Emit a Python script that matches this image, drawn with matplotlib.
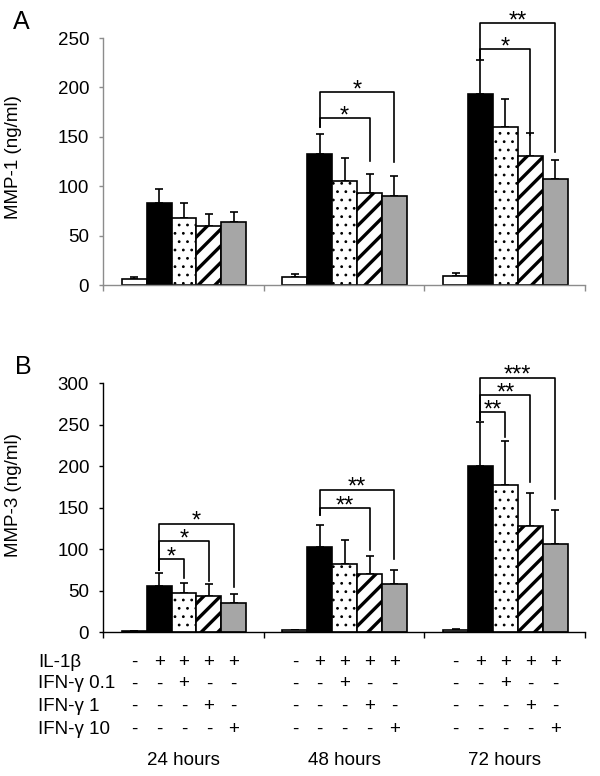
import matplotlib
matplotlib.use("Agg")
import matplotlib.pyplot as plt
import matplotlib.transforms as mtransforms
import numpy as np

plt.rcParams['font.family'] = ['Liberation Sans', 'DejaVu Sans']
plt.rcParams['hatch.linewidth'] = 2.4

# groups and treatments
groups = ["24 hours", "48 hours", "72 hours"]
row_labels = ["IL-1\u03b2", "IFN-\u03b3 0.1", "IFN-\u03b3 1", "IFN-\u03b3 10"]
row_signs = [
    ["-", "+", "+", "+", "+"],
    ["-", "-", "+", "-", "-"],
    ["-", "-", "-", "+", "-"],
    ["-", "-", "-", "-", "+"],
]

# MMP-1 (ng/ml): mean and upper SD, per group
mmp1_mean = [[6, 83, 68, 60, 64], [8, 133, 105, 93, 90], [9, 193, 160, 131, 107]]
mmp1_sd = [[1.8, 14, 15, 12, 10], [3, 20, 24, 19, 20], [3.5, 35, 28, 23, 20]]

# MMP-3 (ng/ml)
mmp3_mean = [[1.5, 56, 47, 44, 35], [2.5, 103, 82, 70, 58], [3, 200, 178, 128, 107]]
mmp3_sd = [[0.6, 15, 13, 14, 11], [1, 26, 29, 22, 17], [1.2, 53, 53, 40, 41]]

# significance brackets: (group, target bar, bracket height, left end, right end, stars)
mmp1_sig = [
    (1, 3, 169, 160, 126, "*"),
    (1, 4, 195, 160, 125, "*"),
    (2, 3, 238.5, 229, 152, "*"),
    (2, 4, 265, 229, 135, "**"),
]
mmp3_sig = [
    (0, 2, 88, 75, 65, "*"),
    (0, 3, 110, 75, 62, "*"),
    (0, 4, 131, 75, 55, "*"),
    (1, 3, 150, 141, 99, "**"),
    (1, 4, 172, 141, 88, "**"),
    (2, 2, 265, 256, 235, "**"),
    (2, 3, 286, 256, 181, "**"),
    (2, 4, 307, 256, 161, "***"),
]

offsets = 0.194 + 0.155 * np.arange(5)
bar_w = 0.155
faces = ["white", "black", "white", "white", "#a6a6a6"]
hatches = [None, None, "..", "//", None]
FS = 13.5


def draw_panel(ax, means, sds, sig, ymax, step, axcol, ylabel):
    for g in range(3):
        x = g + offsets
        for i in range(5):
            b = ax.bar(x[i], means[g][i], width=bar_w, color=faces[i],
                       edgecolor="black", linewidth=1.2, hatch=hatches[i], zorder=2)
            if hatches[i] == ".." and hasattr(b[0], "set_hatch_linewidth"):
                b[0].set_hatch_linewidth(0.8)
        ax.errorbar(x, means[g], yerr=[np.zeros(5), sds[g]], fmt="none",
                    ecolor="black", elinewidth=1.2, capsize=3, capthick=1.2, zorder=1)
    for g, t, h, lb, rb, stars in sig:
        x0 = g + offsets[1]
        x1 = g + offsets[t]
        ax.plot([x0, x0, x1, x1], [lb, h, h, rb], color="black", lw=1.2,
                clip_on=False, zorder=3)
        ax.annotate(stars, ((x0 + x1) / 2, h), xytext=(0, -3), textcoords="offset points",
                    ha="center", va="baseline", fontsize=17, annotation_clip=False)
    ax.set_xlim(0, 3)
    ax.set_ylim(0, ymax)
    ax.set_yticks(np.arange(0, ymax + 1, step))
    ax.set_xticks([0, 1, 2, 3])
    ax.set_xticklabels([])
    ax.tick_params(axis="y", direction="out", length=3, width=1, color=axcol,
                   labelsize=FS, pad=7)
    ax.tick_params(axis="x", direction="out", length=4, width=1, color=axcol)
    for s in ["top", "right"]:
        ax.spines[s].set_visible(False)
    for s in ["left", "bottom"]:
        ax.spines[s].set_color(axcol)
        ax.spines[s].set_linewidth(1)
    ax.set_ylabel(ylabel, fontsize=FS)


fig = plt.figure(figsize=(6, 7.76), dpi=100)
ax_a = fig.add_axes([0.1717, 0.6327, 0.8033, 0.3183])
ax_b = fig.add_axes([0.1717, 0.185, 0.8033, 0.321])

draw_panel(ax_a, mmp1_mean, mmp1_sd, mmp1_sig, 250, 50, "#8c8c8c", "MMP-1 (ng/ml)")
draw_panel(ax_b, mmp3_mean, mmp3_sd, mmp3_sig, 300, 50, "black", "MMP-3 (ng/ml)")
ax_a.yaxis.set_label_coords(-0.169, 0.52)
ax_b.yaxis.set_label_coords(-0.169, 0.55)

fig.text(0.036, 0.972, "A", fontsize=18, ha="center", va="center")
fig.text(0.039, 0.527, "B", fontsize=18, ha="center", va="center")

# treatment table under panel B
trans = mtransforms.blended_transform_factory(ax_b.transData, fig.transFigure)
row_y = [0.146, 0.1186, 0.0893, 0.0602]
for r, lab in enumerate(row_labels):
    fig.text(0.064, row_y[r], lab, fontsize=FS, ha="left", va="center")
    for g in range(3):
        for i in range(5):
            ax_b.text(g + offsets[i], row_y[r], row_signs[r][i], transform=trans,
                      fontsize=FS, ha="center", va="center")
for g, name in enumerate(groups):
    ax_b.text(g + 0.5, 0.0197, name, transform=trans, fontsize=FS,
              ha="center", va="center")

fig.savefig("out.png", dpi=100)
